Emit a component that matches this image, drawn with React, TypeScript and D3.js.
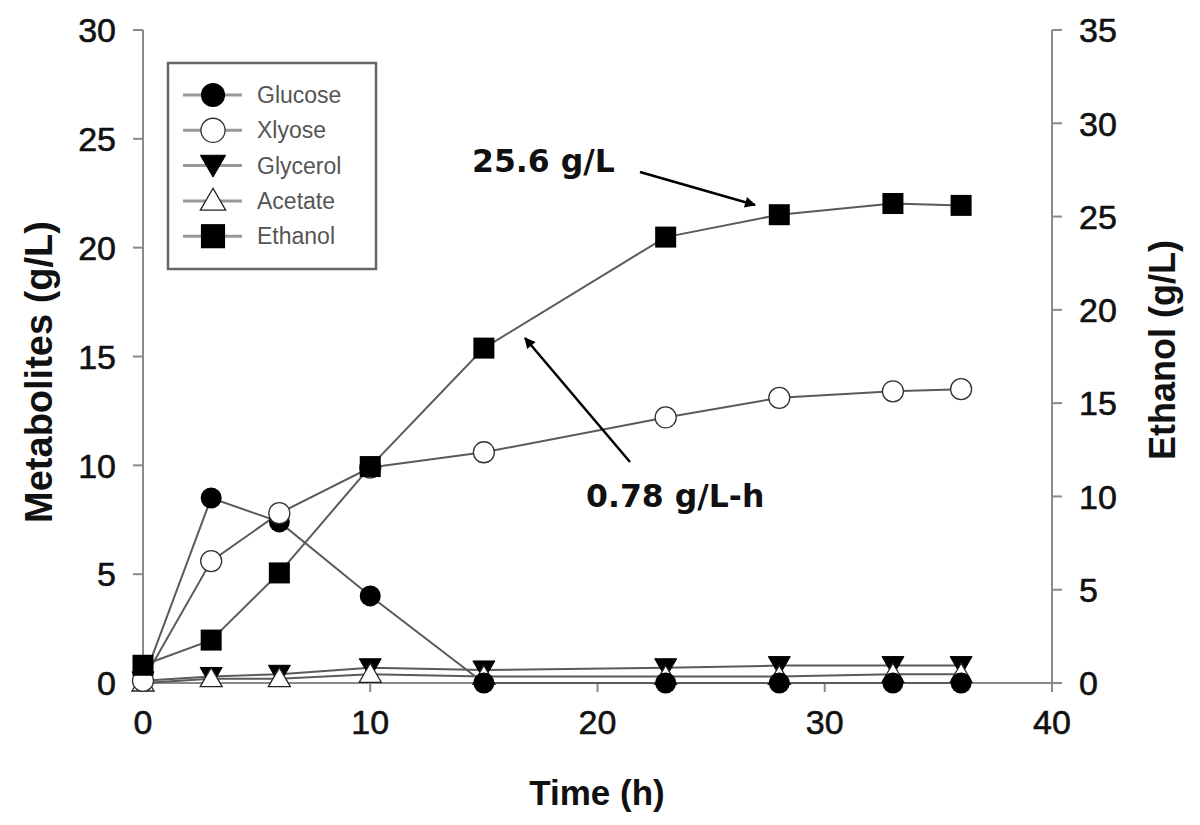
import React from "react";
import * as d3 from "d3";

const time = [0, 3, 6, 10, 15, 23, 28, 33, 36];
const glucose = [0.1, 8.5, 7.4, 4.0, 0, 0, 0, 0, 0];
const xylose = [0.1, 5.6, 7.8, 9.9, 10.6, 12.2, 13.1, 13.4, 13.5];
const glycerol = [0.1, 0.3, 0.4, 0.7, 0.6, 0.7, 0.8, 0.8, 0.8];
const acetate = [0.0, 0.2, 0.2, 0.4, 0.3, 0.3, 0.3, 0.4, 0.4];
const ethanol = [0.95, 2.3, 5.9, 11.6, 17.95, 23.9, 25.1, 25.7, 25.6];

const xTicks = [0, 10, 20, 30, 40];
const yLeftTicks = [0, 5, 10, 15, 20, 25, 30];
const yRightTicks = [0, 5, 10, 15, 20, 25, 30, 35];

const legendNames = ["Glucose", "Xlyose", "Glycerol", "Acetate", "Ethanol"];

const W = 1200, H = 825;
const X0 = 143, X1 = 1052, Y0 = 683, Y1 = 30;

const FONT = "Liberation Sans, Arial, sans-serif";
const ANNOT = "DejaVu Sans, Verdana, sans-serif";
const AXIS = "#8a8a8a";
const LINE = "#5a5a5a";

function Marker({ kind, x, y, s = 1 }: { kind: string; x: number; y: number; s?: number }) {
  if (kind === "Glucose") return <circle cx={x} cy={y} r={10.5 * s} fill="#000" />;
  if (kind === "Xlyose") return <circle cx={x} cy={y} r={10.5 * s} fill="#fff" stroke="#333" strokeWidth={1.3} />;
  if (kind === "Glycerol")
    return <path d={`M${x - 11 * s},${y - 9 * s} L${x + 11 * s},${y - 9 * s} L${x},${y + 10 * s} Z`} fill="#000" stroke="#000" />;
  if (kind === "Acetate")
    return <path d={`M${x - 11 * s},${y + 8 * s} L${x + 11 * s},${y + 8 * s} L${x},${y - 11 * s} Z`} fill="#fff" stroke="#222" strokeWidth={1.3} />;
  return <rect x={x - 10.5 * s} y={y - 10.5 * s} width={21 * s} height={21 * s} fill="#000" />;
}

export default function App() {
  const x = d3.scaleLinear().domain([0, 40]).range([X0, X1]);
  const yL = d3.scaleLinear().domain([0, 30]).range([Y0, Y1]);
  const yR = d3.scaleLinear().domain([0, 35]).range([Y0, Y1]);

  const series = [
    { name: "Glycerol", vals: glycerol, s: yL },
    { name: "Acetate", vals: acetate, s: yL },
    { name: "Glucose", vals: glucose, s: yL },
    { name: "Xlyose", vals: xylose, s: yL },
    { name: "Ethanol", vals: ethanol, s: yR },
  ];

  const lineGen = (vals: number[], s: d3.ScaleLinear<number, number>) =>
    d3.line<number>().x((_, i) => x(time[i])).y((v) => s(v))(vals) || "";

  const tickText = { fontSize: 34, fontFamily: FONT, fill: "#111", stroke: "#111", strokeWidth: 0.6 };

  return (
    <svg width={W} height={H} style={{ display: "block", position: "absolute", left: 0, top: 0, background: "#fff" }}>
      <defs>
        <marker id="ah" viewBox="0 0 10 10" refX="9" refY="5" markerWidth="16" markerHeight="11" orient="auto" markerUnits="userSpaceOnUse">
          <path d="M0,0 L10,5 L0,10 Z" fill="#000" />
        </marker>
      </defs>

      {/* axes */}
      <line x1={X0} y1={Y1} x2={X0} y2={Y0} stroke={AXIS} strokeWidth={2} />
      <line x1={X1} y1={Y1} x2={X1} y2={Y0} stroke={AXIS} strokeWidth={2} />
      <line x1={X0} y1={Y0} x2={X1} y2={Y0} stroke={AXIS} strokeWidth={2} />

      {yLeftTicks.map((t) => (
        <g key={"l" + t}>
          <line x1={X0 - 10} x2={X0} y1={yL(t)} y2={yL(t)} stroke={AXIS} strokeWidth={2} />
          <text x={116} y={yL(t)} dy="0.36em" textAnchor="end" {...tickText}>{t}</text>
        </g>
      ))}
      {yRightTicks.map((t) => (
        <g key={"r" + t}>
          <line x1={X1} x2={X1 + 10} y1={yR(t)} y2={yR(t)} stroke={AXIS} strokeWidth={2} />
          <text x={1079} y={yR(t)} dy="0.36em" textAnchor="start" {...tickText}>{t}</text>
        </g>
      ))}
      {xTicks.map((t) => (
        <g key={"x" + t}>
          <line x1={x(t)} x2={x(t)} y1={Y0} y2={Y0 + 9} stroke={AXIS} strokeWidth={2} />
          <text x={x(t)} y={734} textAnchor="middle" {...tickText}>{t}</text>
        </g>
      ))}

      <text x={0} y={0} transform={`translate(52,372) rotate(-90)`} textAnchor="middle" fontSize={38} fontWeight="bold" fontFamily={FONT} fill="#111">Metabolites (g/L)</text>
      <text x={0} y={0} transform={`translate(1175,350) rotate(-90)`} textAnchor="middle" fontSize={36} fontWeight="bold" fontFamily={FONT} fill="#111">Ethanol (g/L)</text>
      <text x={597} y={805} textAnchor="middle" fontSize={35} fontWeight="bold" fontFamily={FONT} fill="#111">Time (h)</text>

      {/* lines */}
      {series.map((sr) => (
        <path key={"p" + sr.name} d={lineGen(sr.vals, sr.s)} fill="none" stroke={LINE} strokeWidth={2} />
      ))}
      {series.map((sr) =>
        sr.vals.map((v, i) => <Marker key={sr.name + i} kind={sr.name} x={x(time[i])} y={sr.s(v)} />)
      )}

      {/* annotations */}
      <text x={472} y={172} fontSize={31.5} fontWeight="bold" fontFamily={ANNOT} fill="#111">25.6 g/L</text>
      <line x1={640} y1={172} x2={755} y2={205} stroke="#000" strokeWidth={2.5} markerEnd="url(#ah)" />
      <text x={586} y={507} fontSize={31.5} fontWeight="bold" fontFamily={ANNOT} fill="#111">0.78 g/L-h</text>
      <line x1={630} y1={462} x2={525} y2={338} stroke="#000" strokeWidth={2.5} markerEnd="url(#ah)" />

      {/* legend */}
      <rect x={168} y={63} width={208} height={206} fill="#fff" stroke="#666" strokeWidth={2.5} />
      {legendNames.map((n, i) => {
        const cy = 95 + i * 35.3;
        return (
          <g key={"lg" + n}>
            <line x1={183} x2={242} y1={cy} y2={cy} stroke="#999" strokeWidth={3} />
            <Marker kind={n} x={213} y={cy} s={1.15} />
            <text x={257} y={cy} dy="0.35em" fontSize={23} fontFamily={FONT} fill="#555">{n}</text>
          </g>
        );
      })}
    </svg>
  );
}
